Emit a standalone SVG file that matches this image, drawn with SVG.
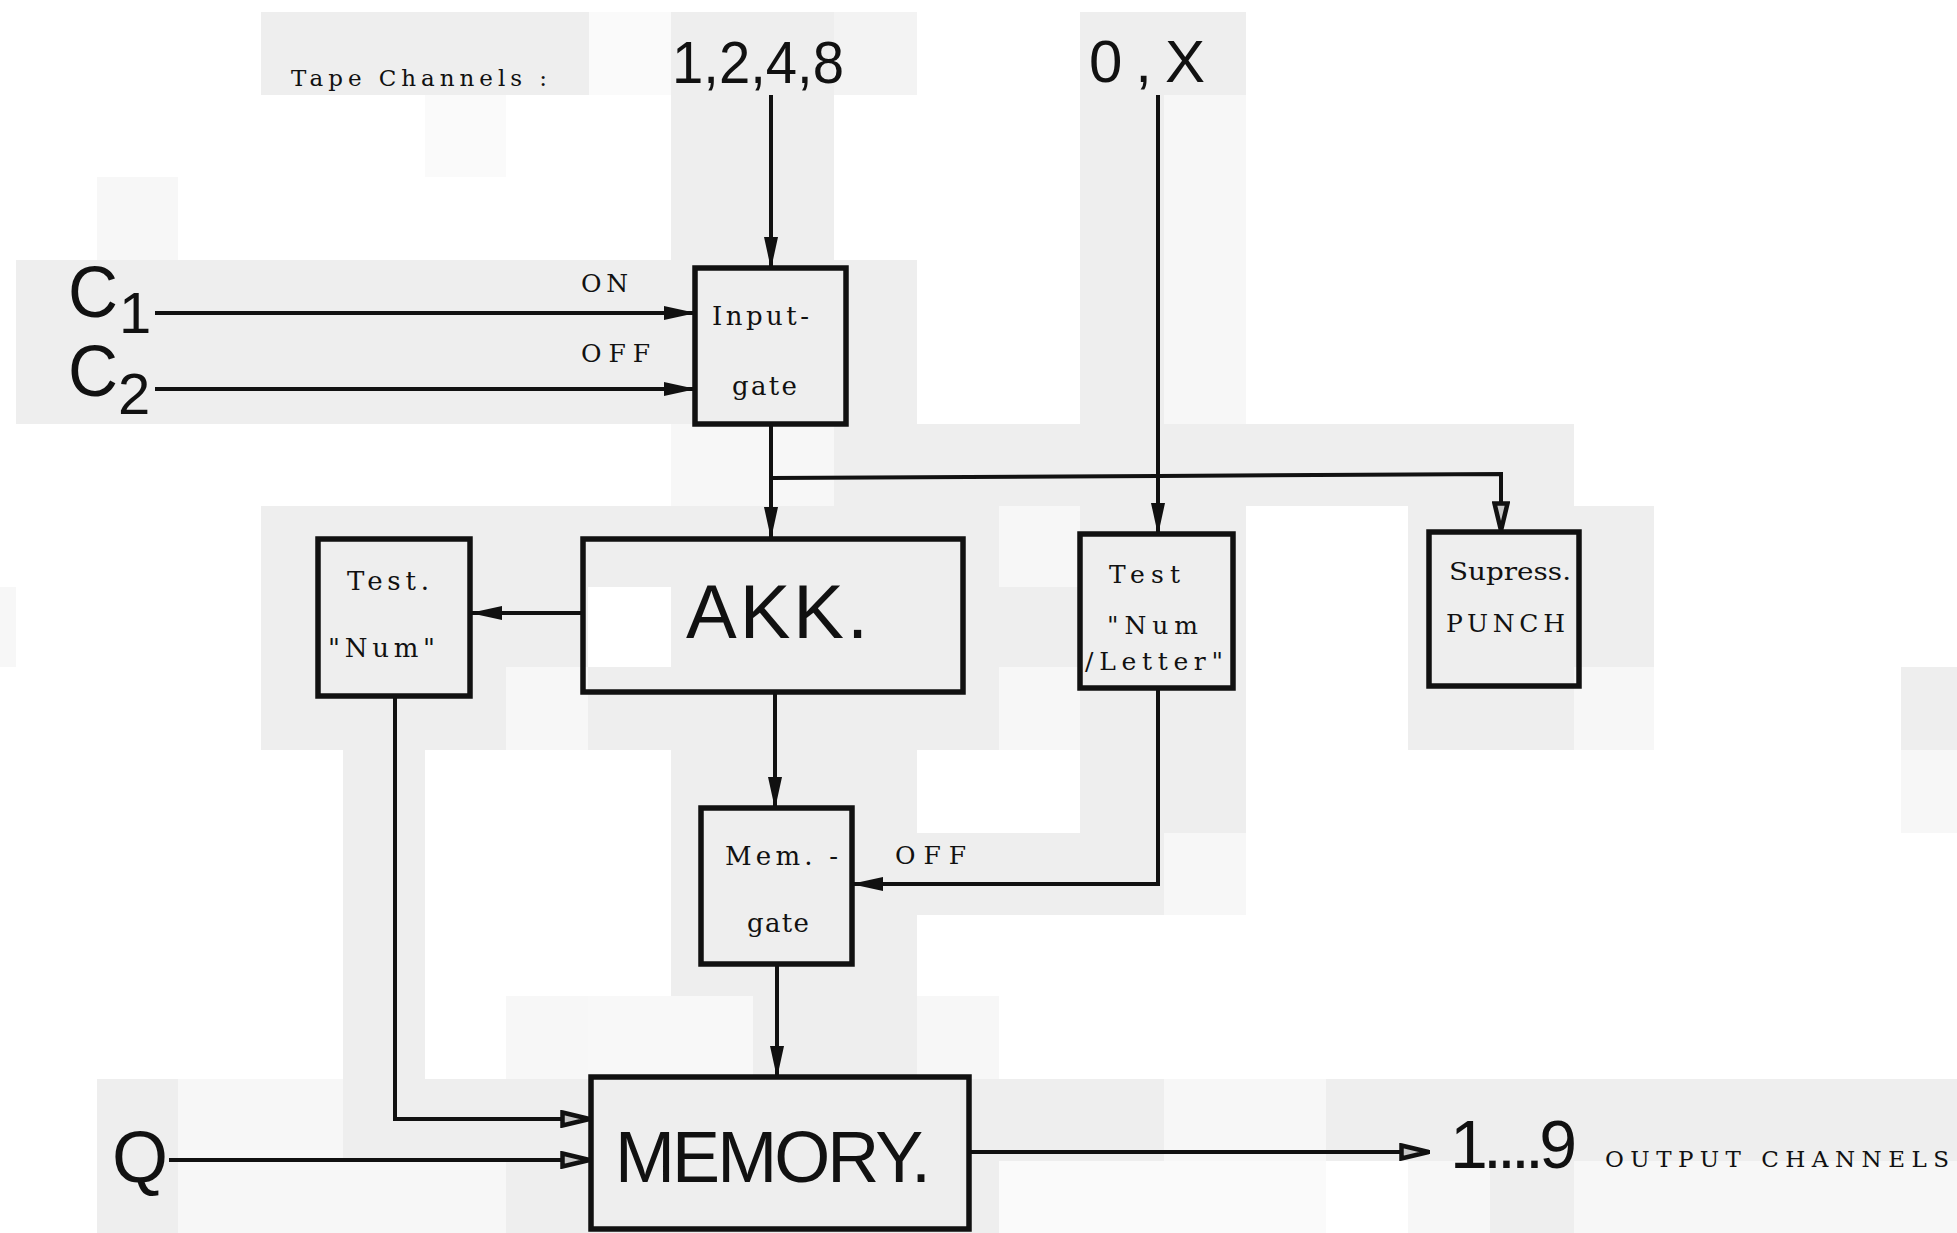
<svg xmlns="http://www.w3.org/2000/svg" width="1957" height="1233" viewBox="0 0 1957 1233">
<defs>
<style>
.g{fill:#eeeeee}.l{fill:#f7f7f7}.v{fill:#fafafa}.w{fill:#ffffff}
.box{fill:none;stroke:#111;stroke-width:5.5}
.ln{fill:none;stroke:#111;stroke-width:4;stroke-linejoin:miter}
.sf{font-family:"DejaVu Serif","Liberation Serif",serif;fill:#111}
.ss{font-family:"Liberation Sans","DejaVu Sans",sans-serif;fill:#111}
</style>
<marker id="af" viewBox="0 0 32 14" refX="31" refY="7" markerWidth="32" markerHeight="14" orient="auto" markerUnits="userSpaceOnUse"><path d="M0,0 L32,7 L0,14 z" fill="#111"/></marker>
<marker id="ao" viewBox="0 0 32 18" refX="31" refY="9" markerWidth="32" markerHeight="18" orient="auto" markerUnits="userSpaceOnUse"><path d="M2.5,2.5 L29.5,9 L2.5,15.5 z" fill="#c8c8c8" stroke="#111" stroke-width="4.5"/></marker>
</defs>
<rect x="0" y="0" width="1957" height="1233" fill="#ffffff"/>
<g id="scan-background">
<rect class="g" x="261" y="12" width="328" height="83"/>
<rect class="v" x="589" y="12" width="82" height="83"/>
<rect class="g" x="671" y="12" width="163" height="248"/>
<rect fill="#f3f3f3" x="834" y="12" width="83" height="83"/>
<rect class="g" x="1080" y="12" width="166" height="83"/>
<rect class="v" x="425" y="95" width="81" height="82"/>
<rect class="l" x="97" y="177" width="81" height="83"/>
<rect class="g" x="1080" y="95" width="84" height="329"/>
<rect class="l" x="1164" y="95" width="82" height="329"/>
<rect class="g" x="16" y="260" width="901" height="164"/>
<rect class="l" x="671" y="424" width="163" height="82"/>
<rect class="g" x="834" y="424" width="740" height="82"/>
<rect class="g" x="261" y="506" width="738" height="244"/>
<rect class="w" x="588" y="587" width="83" height="80"/>
<rect class="l" x="506" y="667" width="82" height="83"/>
<rect class="l" x="999" y="506" width="81" height="81"/>
<rect class="g" x="999" y="587" width="81" height="80"/>
<rect class="l" x="999" y="667" width="81" height="83"/>
<rect class="g" x="1080" y="506" width="166" height="327"/>
<rect class="g" x="1408" y="506" width="166" height="244"/>
<rect class="g" x="1574" y="506" width="80" height="161"/>
<rect class="l" x="1574" y="667" width="80" height="83"/>
<rect class="g" x="1901" y="667" width="56" height="83"/>
<rect class="l" x="1901" y="750" width="56" height="83"/>
<rect class="l" x="0" y="587" width="16" height="80"/>
<rect class="g" x="343" y="750" width="82" height="329"/>
<rect class="g" x="671" y="750" width="246" height="246"/>
<rect class="g" x="917" y="833" width="247" height="82"/>
<rect class="l" x="1164" y="833" width="82" height="82"/>
<rect class="l" x="506" y="996" width="82" height="83"/>
<rect fill="#f8f8f8" x="588" y="996" width="165" height="83"/>
<rect class="g" x="753" y="996" width="164" height="83"/>
<rect class="l" x="917" y="996" width="82" height="83"/>
<rect class="g" x="97" y="1079" width="81" height="154"/>
<rect class="l" x="178" y="1079" width="165" height="82"/>
<rect class="g" x="343" y="1079" width="821" height="82"/>
<rect class="l" x="1164" y="1079" width="162" height="82"/>
<rect class="g" x="1326" y="1079" width="631" height="82"/>
<rect class="l" x="178" y="1161" width="328" height="72"/>
<rect class="g" x="506" y="1161" width="493" height="72"/>
<rect class="v" x="999" y="1161" width="327" height="72"/>
<rect class="l" x="1408" y="1161" width="82" height="72"/>
<rect class="g" x="1490" y="1161" width="84" height="72"/>
<rect class="l" x="1574" y="1161" width="383" height="72"/>
</g>
<g id="labels">
<text class="sf" x="291" y="86" font-size="23" textLength="256" lengthAdjust="spacing">Tape Channels :</text>
<text class="ss" x="672" y="83" font-size="60" textLength="172" lengthAdjust="spacingAndGlyphs">1,2,4,8</text>
<text class="ss" x="1089" y="82" font-size="60" textLength="116" lengthAdjust="spacing">0,X</text>
<text class="ss" x="68" y="317" font-size="72" textLength="50" lengthAdjust="spacingAndGlyphs">C</text>
<text class="ss" x="119" y="333" font-size="58">1</text>
<text class="ss" x="68" y="396" font-size="72" textLength="50" lengthAdjust="spacingAndGlyphs">C</text>
<text class="ss" x="118" y="414" font-size="58">2</text>
<text class="sf" x="581" y="292" font-size="25" textLength="47" lengthAdjust="spacing">ON</text>
<text class="sf" x="581" y="362" font-size="25" textLength="69" lengthAdjust="spacing">OFF</text>
<text class="sf" x="895" y="864" font-size="25" textLength="71" lengthAdjust="spacing">OFF</text>
<text class="ss" x="112" y="1182" font-size="72">Q</text>
<text class="ss" x="1450" y="1168" font-size="68" textLength="127" lengthAdjust="spacing">1....9</text>
<text class="sf" x="1605" y="1167" font-size="23" textLength="344" lengthAdjust="spacing">OUTPUT CHANNELS</text>
</g>
<g id="connectors">
<path class="ln" d="M771,95 V268" marker-end="url(#af)" stroke-width="3.5"/>
<path class="ln" d="M155,313 H695" marker-end="url(#af)" stroke-width="5"/>
<path class="ln" d="M155,389 H695" marker-end="url(#af)" stroke-width="5"/>
<path class="ln" d="M771,424 V538" marker-end="url(#af)"/>
<path class="ln" d="M771,478 L1158,476 L1501,474 V532" marker-end="url(#ao)"/>
<path class="ln" d="M1158,95 V534" marker-end="url(#af)"/>
<path class="ln" d="M583,613 H471" marker-end="url(#af)"/>
<path class="ln" d="M775,692 V808" marker-end="url(#af)"/>
<path class="ln" d="M1158,688 V884 H852" marker-end="url(#af)"/>
<path class="ln" d="M395,696 V1119 H591" marker-end="url(#ao)"/>
<path class="ln" d="M169,1160 H591" marker-end="url(#ao)"/>
<path class="ln" d="M777,964 V1077" marker-end="url(#af)"/>
<path class="ln" d="M969,1152 H1430" marker-end="url(#ao)"/>
</g>
<g id="input-gate">
<rect class="box" x="695" y="268" width="151" height="156"/>
<text class="sf" x="712" y="325" font-size="26" textLength="97" lengthAdjust="spacing">Input-</text>
<text class="sf" x="732" y="395" font-size="26" textLength="65" lengthAdjust="spacing">gate</text>
</g>
<g id="akk">
<rect class="box" x="583" y="539" width="380" height="153"/>
<text class="ss" x="686" y="638" font-size="76" textLength="182" lengthAdjust="spacing">AKK.</text>
</g>
<g id="test-num">
<rect class="box" x="318" y="539" width="152" height="157"/>
<text class="sf" x="347" y="590" font-size="26" textLength="82" lengthAdjust="spacing">Test.</text>
<text class="sf" x="328" y="657" font-size="26" textLength="107" lengthAdjust="spacing">"Num"</text>
</g>
<g id="test-num-letter">
<rect class="box" x="1080" y="534" width="153" height="154"/>
<text class="sf" x="1109" y="583" font-size="25" textLength="71" lengthAdjust="spacing">Test</text>
<text class="sf" x="1107" y="634" font-size="25" textLength="91" lengthAdjust="spacing">"Num</text>
<text class="sf" x="1085" y="670" font-size="25" textLength="138" lengthAdjust="spacing">/Letter"</text>
</g>
<g id="supress-punch">
<rect class="box" x="1429" y="532" width="150" height="154"/>
<text class="sf" x="1449" y="580" font-size="24" textLength="122" lengthAdjust="spacingAndGlyphs">Supress.</text>
<text class="sf" x="1446" y="632" font-size="25" textLength="119" lengthAdjust="spacing">PUNCH</text>
</g>
<g id="mem-gate">
<rect class="box" x="701" y="808" width="151" height="156"/>
<text class="sf" x="725" y="865" font-size="26" textLength="113" lengthAdjust="spacing">Mem. -</text>
<text class="sf" x="747" y="932" font-size="26" textLength="62" lengthAdjust="spacing">gate</text>
</g>
<g id="memory">
<rect class="box" x="591" y="1077" width="378" height="152"/>
<text class="ss" x="615" y="1182" font-size="72" textLength="316" lengthAdjust="spacing">MEMORY.</text>
</g>
</svg>
